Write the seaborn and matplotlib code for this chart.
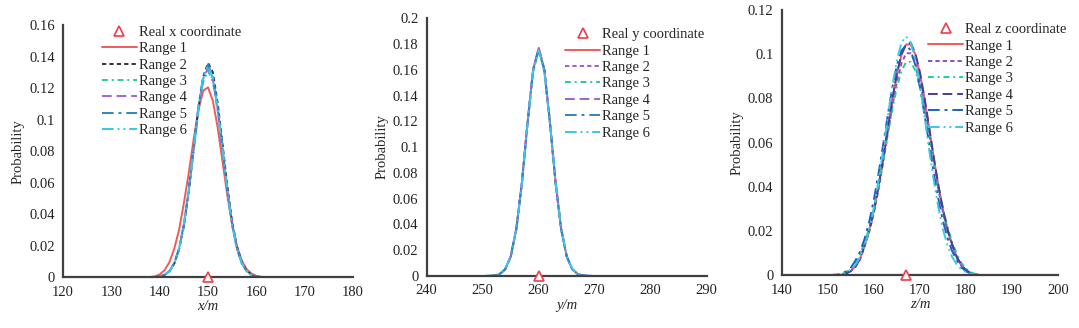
import numpy as np
import pandas as pd
import seaborn as sns
import matplotlib.pyplot as plt
from matplotlib.ticker import FuncFormatter

sns.set_theme(style="white")
plt.rcParams["font.family"] = ["Liberation Serif", "DejaVu Serif"]
plt.rcParams["mathtext.fontset"] = "stix"

# ---- x 方向 ----
X_GRID = [130, 132, 134, 136, 138] + list(range(139, 162)) + [162, 164, 166, 168, 170]
X_R1 = [0, 0, 0, 0, 0.0002,
        0.0006, 0.0018, 0.0045, 0.0095, 0.0180, 0.0300, 0.0470, 0.0660, 0.0870, 0.1060,
        0.1183, 0.1205, 0.1119, 0.0949, 0.0734, 0.0518, 0.0333, 0.0196, 0.0105, 0.0051,
        0.0023, 0.0009, 0.0003,
        0.0001, 0, 0, 0, 0]
X_R2 = [0, 0, 0, 0, 0,
        0.0001, 0.0005, 0.0014, 0.0036, 0.0085, 0.0175, 0.0325, 0.0540, 0.0805, 0.1070,
        0.1270, 0.1360, 0.1300, 0.1105, 0.0845, 0.0578, 0.0352, 0.0193, 0.0095, 0.0042,
        0.0017, 0.0006, 0.0002,
        0, 0, 0, 0, 0]
X_R3 = [0, 0, 0, 0, 0,
        0.0001, 0.0005, 0.0014, 0.0038, 0.0086, 0.0177, 0.0326, 0.0538, 0.0795, 0.1049,
        0.1239, 0.1310, 0.1239, 0.1049, 0.0795, 0.0538, 0.0326, 0.0177, 0.0086, 0.0038,
        0.0014, 0.0005, 0.0001,
        0, 0, 0, 0, 0]
X_R4 = [0, 0, 0, 0, 0,
        0.0001, 0.0005, 0.0015, 0.0039, 0.0088, 0.0180, 0.0331, 0.0547, 0.0807, 0.1065,
        0.1258, 0.1330, 0.1258, 0.1065, 0.0807, 0.0547, 0.0331, 0.0180, 0.0088, 0.0039,
        0.0015, 0.0005, 0.0001,
        0, 0, 0, 0, 0]
X_R5 = [0, 0, 0, 0, 0,
        0.0001, 0.0005, 0.0015, 0.0039, 0.0089, 0.0182, 0.0336, 0.0555, 0.0819, 0.1081,
        0.1277, 0.1350, 0.1277, 0.1081, 0.0819, 0.0555, 0.0336, 0.0182, 0.0089, 0.0039,
        0.0015, 0.0005, 0.0001,
        0, 0, 0, 0, 0]
X_R6 = [0, 0, 0, 0, 0,
        0.0001, 0.0005, 0.0015, 0.0039, 0.0088, 0.0181, 0.0334, 0.0551, 0.0813, 0.1073,
        0.1268, 0.1340, 0.1268, 0.1073, 0.0813, 0.0551, 0.0334, 0.0181, 0.0088, 0.0039,
        0.0015, 0.0005, 0.0001,
        0, 0, 0, 0, 0]

# ---- y 方向 ----
Y_GRID = [240, 244, 248, 250] + list(range(251, 270)) + [270, 272, 276, 280]
Y_R1 = [0, 0, 0, 0,
        0.0001, 0.0003, 0.0014, 0.0051, 0.0150, 0.0365, 0.0727, 0.1193, 0.1604, 0.1770,
        0.1604, 0.1193, 0.0727, 0.0365, 0.0150, 0.0051, 0.0014, 0.0003, 0.0001,
        0, 0, 0, 0]
Y_R2 = [0, 0, 0, 0,
        0.0001, 0.0003, 0.0014, 0.0051, 0.0149, 0.0363, 0.0723, 0.1186, 0.1595, 0.1760,
        0.1595, 0.1186, 0.0723, 0.0363, 0.0149, 0.0051, 0.0014, 0.0003, 0.0001,
        0, 0, 0, 0]
Y_R3 = [0, 0, 0, 0,
        0.0001, 0.0003, 0.0014, 0.0050, 0.0148, 0.0361, 0.0719, 0.1180, 0.1586, 0.1750,
        0.1586, 0.1180, 0.0719, 0.0361, 0.0148, 0.0050, 0.0014, 0.0003, 0.0001,
        0, 0, 0, 0]
Y_R4 = [0, 0, 0, 0,
        0.0001, 0.0003, 0.0014, 0.0052, 0.0152, 0.0368, 0.0730, 0.1195, 0.1603, 0.1768,
        0.1603, 0.1195, 0.0730, 0.0368, 0.0152, 0.0052, 0.0014, 0.0003, 0.0001,
        0, 0, 0, 0]
Y_R5 = [0, 0, 0, 0,
        0.0001, 0.0003, 0.0015, 0.0053, 0.0153, 0.0368, 0.0726, 0.1188, 0.1596, 0.1762,
        0.1596, 0.1188, 0.0726, 0.0368, 0.0153, 0.0053, 0.0015, 0.0003, 0.0001,
        0, 0, 0, 0]
Y_R6 = [0, 0, 0, 0,
        0.0001, 0.0004, 0.0016, 0.0055, 0.0156, 0.0370, 0.0728, 0.1186, 0.1588, 0.1752,
        0.1588, 0.1186, 0.0728, 0.0370, 0.0156, 0.0055, 0.0016, 0.0004, 0.0001,
        0, 0, 0, 0]

# ---- z 方向 ----
Z_GRID = [150] + list(range(152, 184)) + [185, 190]
Z_R1 = [0,
        0.0001, 0.0003, 0.0008, 0.0020, 0.0040, 0.0075, 0.0137, 0.0205, 0.0294, 0.0403,
        0.0529, 0.0664, 0.0796, 0.0911, 0.0998, 0.1044, 0.1044, 0.0998, 0.0911, 0.0796,
        0.0664, 0.0529, 0.0403, 0.0294, 0.0205, 0.0137, 0.0080, 0.0045, 0.0022, 0.0009,
        0.0003, 0.0001,
        0, 0]
Z_R2 = [0,
        0.0001, 0.0003, 0.0008, 0.0019, 0.0038, 0.0072, 0.0132, 0.0197, 0.0283, 0.0388,
        0.0509, 0.0639, 0.0766, 0.0876, 0.0960, 0.1004, 0.1004, 0.0960, 0.0876, 0.0766,
        0.0639, 0.0509, 0.0388, 0.0283, 0.0197, 0.0132, 0.0077, 0.0043, 0.0021, 0.0009,
        0.0003, 0.0001,
        0, 0]
Z_R3 = [0,
        0.0002, 0.0006, 0.0014, 0.0030, 0.0055, 0.0095, 0.0148, 0.0215, 0.0301, 0.0403,
        0.0517, 0.0636, 0.0752, 0.0852, 0.0925, 0.0965, 0.0965, 0.0925, 0.0852, 0.0752,
        0.0636, 0.0517, 0.0403, 0.0301, 0.0215, 0.0148, 0.0095, 0.0055, 0.0030, 0.0014,
        0.0006, 0.0002,
        0, 0]
Z_R4 = [0,
        0.0001, 0.0003, 0.0008, 0.0020, 0.0041, 0.0076, 0.0136, 0.0204, 0.0292, 0.0401,
        0.0527, 0.0663, 0.0797, 0.0913, 0.1001, 0.1048, 0.1050, 0.1003, 0.0915, 0.0799,
        0.0666, 0.0530, 0.0404, 0.0295, 0.0206, 0.0138, 0.0082, 0.0046, 0.0023, 0.0010,
        0.0004, 0.0001,
        0, 0]
Z_R5 = [0,
        0.0003, 0.0008, 0.0018, 0.0035, 0.0067, 0.0108, 0.0166, 0.0244, 0.0343, 0.0461,
        0.0591, 0.0724, 0.0849, 0.0950, 0.1017, 0.1040, 0.1017, 0.0950, 0.0849, 0.0724,
        0.0591, 0.0461, 0.0343, 0.0244, 0.0166, 0.0108, 0.0067, 0.0035, 0.0018, 0.0008,
        0.0003, 0.0001,
        0, 0]
Z_R6 = [0,
        0.0003, 0.0007, 0.0014, 0.0026, 0.0048, 0.0082, 0.0133, 0.0206, 0.0305, 0.0427,
        0.0566, 0.0715, 0.0856, 0.0974, 0.1053, 0.1080, 0.1053, 0.0974, 0.0856, 0.0715,
        0.0566, 0.0427, 0.0305, 0.0206, 0.0133, 0.0082, 0.0048, 0.0026, 0.0014, 0.0007,
        0.0003, 0.0001,
        0, 0]

REAL_COORD = [150, 260, 167]
RANGE_LABELS = ["Range 1", "Range 2", "Range 3", "Range 4", "Range 5", "Range 6"]

# 每个子图的样式单独给，颜色在三张图里略有差别
styles_x = [("#F25A5A", "-"), ("#333333", (0, (2.2, 1.6))), ("#2BC9A0", (0, (3, 2, 1, 2))),
            ("#A066D6", (0, (5, 2.5))), ("#2E86C1", (0, (6, 2.5, 1.5, 2.5))),
            ("#3CC6E6", (0, (6, 2, 1, 2, 1, 2)))]
styles_y = [("#F25A5A", "-"), ("#A45BC9", (0, (2.2, 1.6))), ("#2BC9A0", (0, (3, 2, 1, 2))),
            ("#9B5FD6", (0, (5, 2.5))), ("#2E86C1", (0, (6, 2.5, 1.5, 2.5))),
            ("#3CC6E6", (0, (6, 2, 1, 2, 1, 2)))]
styles_z = [("#F25A5A", "-"), ("#8E4FC0", (0, (2.2, 1.6))), ("#22D08A", (0, (3, 2, 1, 2))),
            ("#4B3A9B", (0, (5, 2.5))), ("#1565C0", (0, (6, 2.5, 1.5, 2.5))),
            ("#3CC6E6", (0, (6, 2, 1, 2, 1, 2)))]

panels = [
    dict(grid=X_GRID, series=[X_R1, X_R2, X_R3, X_R4, X_R5, X_R6], styles=styles_x,
         real=REAL_COORD[0], real_label="Real x coordinate", xlabel="x/m",
         xlim=(120, 180), ylim=(0, 0.16), rect=[0.0584, 0.1546, 0.2688, 0.769],
         leg_anchor=(0.134, 0.998)),
    dict(grid=Y_GRID, series=[Y_R1, Y_R2, Y_R3, Y_R4, Y_R5, Y_R6], styles=styles_y,
         real=REAL_COORD[1], real_label="Real y coordinate", xlabel="y/m",
         xlim=(240, 290), ylim=(0, 0.2), rect=[0.3955, 0.1585, 0.2595, 0.786],
         leg_anchor=(0.494, 0.962)),
    dict(grid=Z_GRID, series=[Z_R1, Z_R2, Z_R3, Z_R4, Z_R5, Z_R6], styles=styles_z,
         real=REAL_COORD[2], real_label="Real z coordinate", xlabel="z/m",
         xlim=(140, 200), ylim=(0, 0.12), rect=[0.7245, 0.1607, 0.2563, 0.809],
         leg_anchor=(0.529, 0.951)),
]

fig = plt.figure(figsize=(10.79, 3.28), dpi=100)
fmt = FuncFormatter(lambda v, _: f"{v:g}")

for p in panels:
    ax = fig.add_axes(p["rect"])
    handles = []
    for vals, (color, ls), name in zip(p["series"], p["styles"], RANGE_LABELS):
        df = pd.DataFrame({"pos": p["grid"], "prob": vals})
        sns.lineplot(data=df, x="pos", y="prob", ax=ax, color=color, linestyle=ls,
                     linewidth=1.4, label=name, legend=False)
        handles.append(ax.lines[-1])

    tri, = ax.plot([p["real"]], [0], marker="^", linestyle="none", markersize=6.5,
                   markerfacecolor="white", markeredgecolor="#F03C4A", markeredgewidth=1.2,
                   clip_on=False, zorder=5)

    ax.set_xlim(*p["xlim"])
    ax.set_ylim(*p["ylim"])
    ax.set_xticks(np.arange(p["xlim"][0], p["xlim"][1] + 1, 10))
    ax.set_yticks(np.arange(0, p["ylim"][1] + 1e-9, 0.02))
    ax.yaxis.set_major_formatter(fmt)
    ax.set_xlabel(p["xlabel"], fontsize=10.5, style="italic", labelpad=1)
    ax.set_ylabel("Probability", fontsize=10.5, labelpad=3)
    ax.tick_params(axis="x", direction="in", length=4, width=1.2, labelsize=10.5,
                   color="#404040", pad=6)
    ax.tick_params(axis="y", direction="out", length=3, width=1.2, labelsize=10.5,
                   color="#404040", pad=3)
    ax.tick_params(colors="#222222", which="both")

    sns.despine(ax=ax)
    for side in ["left", "bottom"]:
        ax.spines[side].set_color("#404040")
        ax.spines[side].set_linewidth(1.6)

    ax.legend([tri] + handles, [p["real_label"]] + RANGE_LABELS,
              loc="upper left", bbox_to_anchor=p["leg_anchor"], frameon=False,
              fontsize=10.5, handlelength=2.4, handletextpad=0.15,
              labelspacing=0.22, borderpad=0, borderaxespad=0, numpoints=1)

plt.savefig("out.png", dpi=100)
